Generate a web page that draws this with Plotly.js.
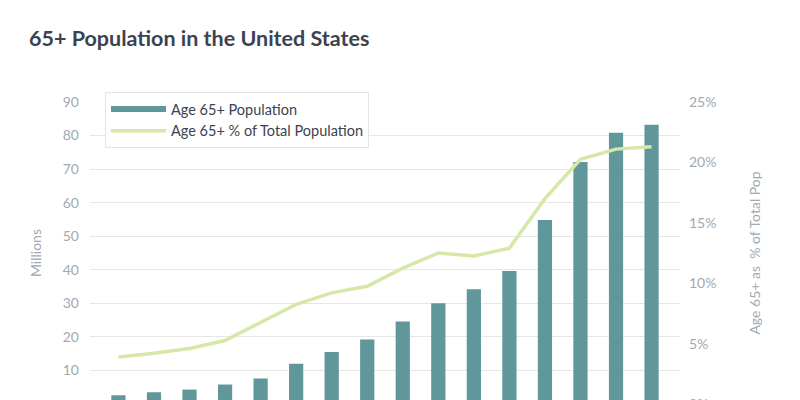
<!DOCTYPE html>
<html>
<head>
<meta charset="utf-8">
<script src="https://cdn.plot.ly/plotly-3.0.1.min.js"></script>
<style>
  html, body { margin: 0; padding: 0; background: #ffffff; overflow: hidden; }
  #chart { width: 800px; height: 480px; }
</style>
</head>
<body>
<div id="chart"></div>
<script>
// Data
const years = ["1900","1910","1920","1930","1940","1950","1960","1970","1980","1990","2000","2010","2020","2030","2040","2050"];
const pop65Millions = [2.6, 3.5, 4.3, 5.8, 7.6, 12.0, 15.5, 19.2, 24.6, 30.0, 34.2, 39.6, 54.8, 72.1, 80.8, 83.2];
const pop65Percent = [3.9, 4.2, 4.6, 5.25, 6.75, 8.25, 9.2, 9.75, 11.25, 12.5, 12.25, 12.9, 17.0, 20.25, 21.1, 21.3];
const leftTicks = [10, 20, 30, 40, 50, 60, 70, 80, 90];
const rightTicks = [0, 5, 10, 15, 20, 25];

const barName = "Age 65+ Population";
const lineName = "Age 65+ % of Total Population";
const barColor = "#5f979a";
const lineColor = "#d6e8a8";
const textGray = "#a3a9b2";
const darkText = "#3c4250";

const traces = [
  {
    type: "bar",
    x: years,
    y: pop65Millions,
    name: barName,
    marker: { color: barColor },
    showlegend: false,
    yaxis: "y"
  },
  {
    // legend-only entry so the bar series shows a thick line swatch
    type: "scatter",
    mode: "lines",
    x: [null],
    y: [null],
    name: barName,
    line: { color: barColor, width: 6 },
    yaxis: "y",
    showlegend: true
  },
  {
    type: "scatter",
    mode: "lines",
    x: years,
    y: pop65Percent,
    name: lineName,
    line: { color: lineColor, width: 3.5 },
    yaxis: "y2"
  }
];

const layout = {
  width: 800,
  height: 480,
  margin: { l: 90, r: 120, t: 102, b: 76 },
  paper_bgcolor: "#ffffff",
  plot_bgcolor: "#ffffff",
  font: { family: "Lato, 'Open Sans', sans-serif", size: 14, color: textGray },
  title: {
    text: "65+ Population in the United States",
    font: { family: "Lato, sans-serif", size: 21.5, color: darkText, weight: 700 },
    x: 29 / 800,
    xanchor: "left",
    xref: "container",
    y: 1 - 38 / 480,
    yanchor: "middle",
    yref: "container"
  },
  bargap: 0.6,
  xaxis: {
    type: "category",
    range: [-0.8, 15.8],
    showgrid: false,
    zeroline: false,
    showline: false,
    ticks: "",
    showticklabels: false
  },
  yaxis: {
    range: [0, 90],
    tickmode: "array",
    tickvals: leftTicks,
    ticktext: leftTicks.map(String),
    showgrid: true,
    gridcolor: "#e6e6e6",
    gridwidth: 1,
    zeroline: false,
    showline: false,
    ticks: "",
    ticklabelstandoff: 10,
    tickfont: { color: textGray, size: 14 },
    title: { text: "Millions", font: { color: textGray, size: 14 }, standoff: 17 }
  },
  yaxis2: {
    overlaying: "y",
    side: "right",
    range: [0, 25],
    tickmode: "array",
    tickvals: rightTicks,
    ticktext: rightTicks.map(v => v + "%"),
    showgrid: false,
    zeroline: false,
    showline: false,
    ticks: "",
    ticklabelstandoff: 8,
    tickfont: { color: textGray, size: 14 },
    title: { text: "Age 65+ as \u00a0% of Total Pop", font: { color: textGray, size: 14 }, standoff: 34 }
  },
  legend: {
    x: 15 / 590,
    xanchor: "left",
    y: (404 - 92) / 302,
    yanchor: "top",
    bgcolor: "#ffffff",
    bordercolor: "#e4e4e4",
    borderwidth: 1,
    font: { family: "Lato, sans-serif", size: 14.5, color: darkText },
    itemwidth: 55,
    tracegroupgap: 0
  },
  showlegend: true
};

Plotly.newPlot("chart", traces, layout, { displayModeBar: false, staticPlot: true });
</script>
</body>
</html>
